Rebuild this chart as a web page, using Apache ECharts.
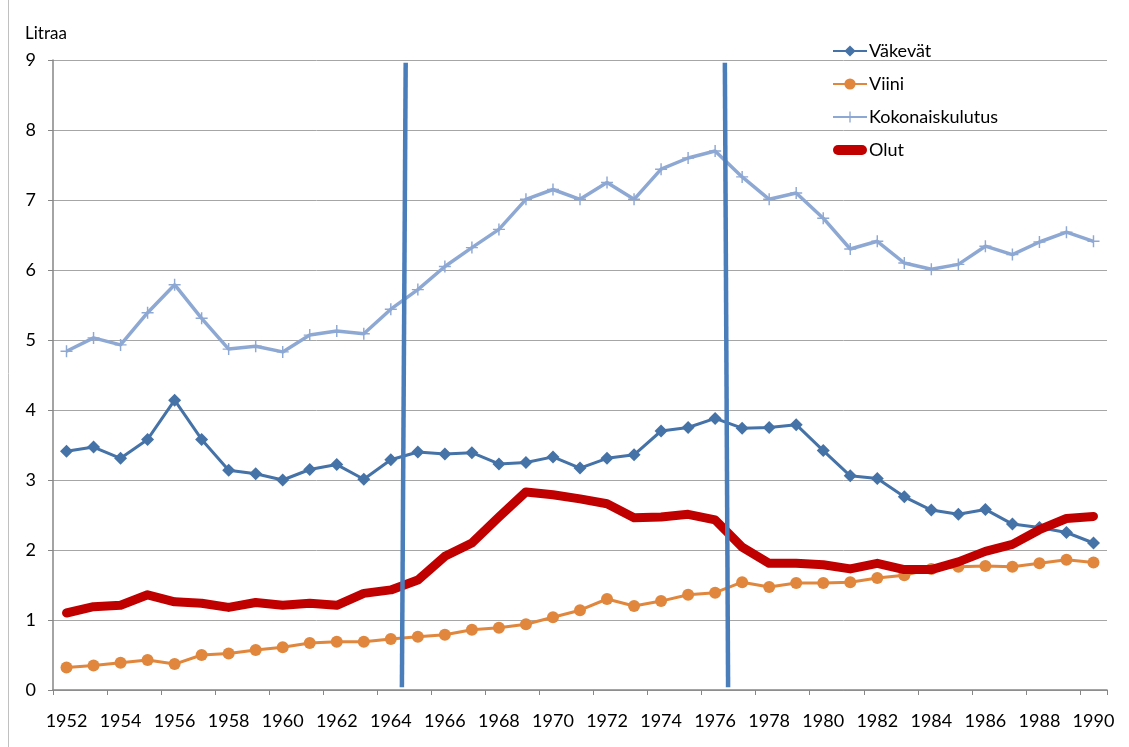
<!DOCTYPE html>
<html>
<head>
<meta charset="utf-8">
<script src="https://cdn.jsdelivr.net/npm/echarts@6/dist/echarts.min.js"></script>
<style>
html,body{margin:0;padding:0;background:#fff;}
#main{width:1129px;height:747px;}
</style>
</head>
<body>
<div id="main"></div>
<script>
const years = [];
for (let y = 1952; y <= 1990; y++) years.push(String(y));

const vakevat = [3.41,3.47,3.31,3.58,4.14,3.58,3.14,3.09,3.00,3.15,3.22,3.01,3.29,
  3.40,3.37,3.39,3.23,3.25,3.33,3.17,3.31,3.36,3.70,3.75,3.88,
  3.74,3.75,3.79,3.42,3.06,3.02,2.76,2.57,2.51,2.58,2.37,2.32,2.25,2.10];
const viini = [0.32,0.35,0.39,0.43,0.37,0.50,0.52,0.57,0.61,0.67,0.69,0.69,0.73,
  0.76,0.79,0.86,0.89,0.94,1.04,1.14,1.30,1.20,1.27,1.36,1.39,
  1.54,1.47,1.53,1.53,1.54,1.60,1.64,1.73,1.76,1.77,1.76,1.81,1.86,1.82];
const kokonais = [4.84,5.03,4.93,5.39,5.79,5.31,4.87,4.91,4.83,5.07,5.13,5.09,5.44,
  5.72,6.05,6.32,6.58,7.01,7.15,7.01,7.25,7.01,7.44,7.60,7.70,
  7.33,7.01,7.10,6.74,6.30,6.41,6.10,6.01,6.08,6.34,6.22,6.40,6.54,6.41];
const olut = [1.10,1.19,1.21,1.36,1.26,1.24,1.18,1.25,1.21,1.24,1.21,1.38,1.43,
  1.57,1.91,2.10,2.47,2.83,2.79,2.73,2.66,2.46,2.47,2.51,2.43,
  2.04,1.81,1.81,1.79,1.73,1.81,1.72,1.72,1.83,1.98,2.08,2.29,2.45,2.48];

// vertical divider lines (year position at top and bottom, value at top and bottom)
const divider1 = [[1964.55, 8.96], [1964.41, 0.04]];
const divider2 = [[1976.36, 8.96], [1976.48, 0.04]];

const yTicks = [0,1,2,3,4,5,6,7,8,9];

const FONT = 'Lato';
const chart = echarts.init(document.getElementById('main'), null, {renderer: 'canvas'});
const plusPath = 'path://M4.4,0h1.2v4.4h4.4v1.2h-4.4v4.4h-1.2v-4.4h-4.4v-1.2h4.4z';
const barIcon = 'path://M5,0H29A5,5 0 0 1 29,10H5A5,5 0 0 1 5,0Z';

chart.setOption({
  animation: false,
  backgroundColor: '#ffffff',
  textStyle: {fontFamily: FONT},
  grid: {left: 53, right: 22, top: 60, bottom: 57, containLabel: false},
  graphic: [
    {type: 'line', shape: {x1: 8.5, y1: 0, x2: 8.5, y2: 747}, style: {stroke: '#c0c0c0', lineWidth: 1}},
    {type: 'text', left: 25, top: 25, style: {text: 'Litraa', font: '17px ' + FONT, fill: '#000'}}
  ],
  legend: {
    orient: 'vertical',
    left: 827,
    top: 37,
    itemGap: 15,
    itemWidth: 34,
    itemHeight: 14,
    textStyle: {fontSize: 18, color: '#000', fontFamily: FONT, padding: [0, 0, 0, -3]},
    data: ['Väkevät', 'Viini', 'Kokonaiskulutus',
      {name: 'Olut', icon: barIcon, itemStyle: {color: '#c00000'}}]
  },
  xAxis: [
    {
      type: 'category',
      data: years,
      boundaryGap: true,
      axisLine: {show: true, lineStyle: {color: '#868686', width: 1.5}},
      axisTick: {show: true, interval: 1, length: 5, lineStyle: {color: '#868686'}},
      axisLabel: {interval: 1, margin: 22, fontSize: 18, color: '#000', fontFamily: FONT},
      splitLine: {show: false}
    },
    {
      type: 'value',
      min: 1951.5,
      max: 1990.5,
      show: false,
      splitLine: {show: false}
    }
  ],
  yAxis: {
    type: 'value',
    min: 0,
    max: 9,
    interval: 1,
    axisLine: {show: true, lineStyle: {color: '#868686', width: 1.5}},
    axisTick: {show: true, length: 5, lineStyle: {color: '#868686'}},
    axisLabel: {margin: 17, fontSize: 18, color: '#000', fontFamily: FONT,
      formatter: v => yTicks.includes(v) ? String(v) : ''},
    splitLine: {show: true, lineStyle: {color: '#a6a6a6', width: 1}}
  },
  series: [
    {
      name: 'Väkevät', type: 'line', data: vakevat,
      symbol: 'diamond', symbolSize: 13,
      itemStyle: {color: '#4572a7'},
      lineStyle: {color: '#4572a7', width: 3},
      z: 2
    },
    {
      name: 'Viini', type: 'line', data: viini,
      symbol: 'circle', symbolSize: 12,
      itemStyle: {color: '#e0873d'},
      lineStyle: {color: '#e0873d', width: 3},
      z: 2
    },
    {
      name: 'Kokonaiskulutus', type: 'line', data: kokonais,
      symbol: plusPath, symbolSize: 12,
      itemStyle: {color: '#8ea8d4'},
      lineStyle: {color: '#8ea8d4', width: 3.5},
      z: 2
    },
    {
      name: 'Olut', type: 'line', data: olut,
      symbol: 'none', showSymbol: false,
      itemStyle: {color: '#c00000'},
      lineStyle: {color: '#c00000', width: 9, cap: 'round', join: 'round'},
      z: 3
    },
    {
      name: 'divider1', type: 'line', xAxisIndex: 1, data: divider1,
      symbol: 'none', silent: true,
      lineStyle: {color: '#4a7ebb', width: 4.5},
      z: 4
    },
    {
      name: 'divider2', type: 'line', xAxisIndex: 1, data: divider2,
      symbol: 'none', silent: true,
      lineStyle: {color: '#4a7ebb', width: 4.5},
      z: 4
    }
  ]
});
</script>
</body>
</html>
